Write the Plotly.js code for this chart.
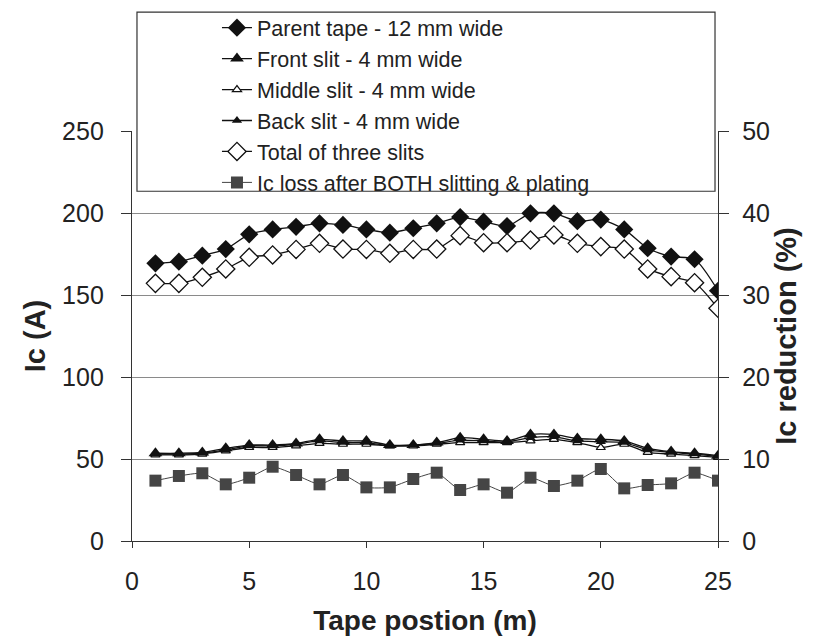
<!DOCTYPE html>
<html>
<head>
<meta charset="utf-8">
<script src="https://cdn.plot.ly/plotly-3.0.1.min.js"></script>
<style>html,body{margin:0;padding:0;background:#fff;}#chart{width:813px;height:642px;}</style>
</head>
<body>
<div id="chart"></div>
<script>
const positions = [1,2,3,4,5,6,7,8,9,10,11,12,13,14,15,16,17,18,19,20,21,22,23,24,25];
const parentTape = [169.3,170.3,174,178,187,190,191.6,193.7,192.7,190,188,190.7,193.7,197.5,194.7,192,199.8,199.8,195,196,190,178.5,173.4,171.8,152.6];
const frontSlit  = [53.5,53.5,54,56.5,58.5,58.5,59.5,62,61,61,58.5,58.5,60,63,62,61,65,65,62.5,62,61,56.5,54.5,53.5,52];
const middleSlit = [52.5,52.5,53,55,57,57,58,59.5,59,59,58,58,59,60,60,60,61,62,60,57,59,54,53,52,51];
const backSlit   = [53,53,53.5,55.5,58,58,59,61,60,60,58,58.5,59.5,61.5,61,60.5,63,63.5,61,60.5,60,55.5,54,53,51.5];
const totalSlits = [157.1,157.1,160.8,165.9,173,174.4,177.8,181.5,178,177.8,175.4,177.8,178,186.2,181.9,181.9,183.5,186.6,181.5,179.5,178,165.9,161.2,157.5,141.9];
const icLoss     = [7.36,7.93,8.26,6.91,7.72,9.06,8.05,6.91,8.05,6.54,6.54,7.56,8.33,6.22,6.91,5.89,7.72,6.71,7.36,8.78,6.42,6.83,7.03,8.33,7.36];
const seriesNames = ['Parent tape - 12 mm wide','Front slit - 4 mm wide','Middle slit - 4 mm wide','Back slit - 4 mm wide','Total of three slits','Ic loss after BOTH slitting & plating'];

const FONT = 'Liberation Sans, Arial, sans-serif';
const lineSpec = {color:'#111', width:1.3, shape:'spline', smoothing:0.7};

const traces = [
  {x:positions, y:parentTape, name:seriesNames[0], mode:'lines+markers', line:lineSpec,
   marker:{symbol:'diamond', size:14, color:'#111'}},
  {x:positions, y:frontSlit, name:seriesNames[1], mode:'lines+markers', line:lineSpec,
   marker:{symbol:'triangle-up', size:12, color:'#111'}},
  {x:positions, y:middleSlit, name:seriesNames[2], mode:'lines+markers', line:lineSpec,
   marker:{symbol:'triangle-up', size:8, color:'#fff', line:{color:'#111', width:1.2}}},
  {x:positions, y:backSlit, name:seriesNames[3], mode:'lines+markers', line:lineSpec,
   marker:{symbol:'triangle-up', size:9, color:'#111'}},
  {x:positions, y:totalSlits, name:seriesNames[4], mode:'lines+markers', line:lineSpec,
   marker:{symbol:'diamond', size:14, color:'#fff', line:{color:'#111', width:1.3}}},
  {x:positions, y:icLoss, name:seriesNames[5], yaxis:'y2', mode:'lines+markers',
   line:{color:'#444', width:1, shape:'spline', smoothing:0.5},
   marker:{symbol:'square', size:12, color:'#454545'}}
];

const layout = {
  width:813, height:642,
  margin:{l:132, r:95, t:131, b:101, autoexpand:false},
  paper_bgcolor:'#fff', plot_bgcolor:'#fff',
  font:{family:FONT, color:'#222', size:25},
  showlegend:true,
  legend:{x:0.145, xanchor:'left', y:1.302, yanchor:'top', bgcolor:'rgba(0,0,0,0)',
          borderwidth:0, font:{family:FONT, size:21.5, color:'#222'}, tracegroupgap:0},
  xaxis:{range:[0,25], dtick:5, tick0:0, showgrid:false, zeroline:false, automargin:false,
         showline:true, linecolor:'#333', linewidth:1.2, ticks:'outside', ticklen:6, tickcolor:'#333',
         ticklabelstandoff:12, tickfont:{size:25},
         title:{text:'<b>Tape postion (m)</b>', font:{size:28, color:'#222'}, standoff:16}},
  yaxis:{range:[0,250], dtick:50, tick0:0, showgrid:true, gridcolor:'#8a8a8a', gridwidth:1, zeroline:false, automargin:false,
         showline:true, linecolor:'#333', linewidth:1.2, ticks:'outside', ticklen:10, tickcolor:'#333',
         ticklabelstandoff:12, tickfont:{size:25},
         title:{text:'<b>Ic (A)</b>', font:{size:29, color:'#222'}, standoff:8}},
  yaxis2:{range:[0,50], dtick:10, tick0:0, overlaying:'y', side:'right', showgrid:false, zeroline:false, automargin:false,
          showline:true, linecolor:'#333', linewidth:1.2, ticks:'outside', ticklen:10, tickcolor:'#333',
          ticklabelstandoff:8, tickfont:{size:25},
          title:{text:'<b>Ic reduction (%)</b>', font:{size:29, color:'#222'}, standoff:0}},
  shapes:[{type:'rect', xref:'paper', yref:'paper', x0:0.0085, x1:0.9949, y0:0.853, y1:1.290,
           line:{color:'#333', width:1.2}, fillcolor:'#fff', layer:'above'}]
};

Plotly.newPlot('chart', traces, layout, {displayModeBar:false, staticPlot:true});
</script>
</body>
</html>
